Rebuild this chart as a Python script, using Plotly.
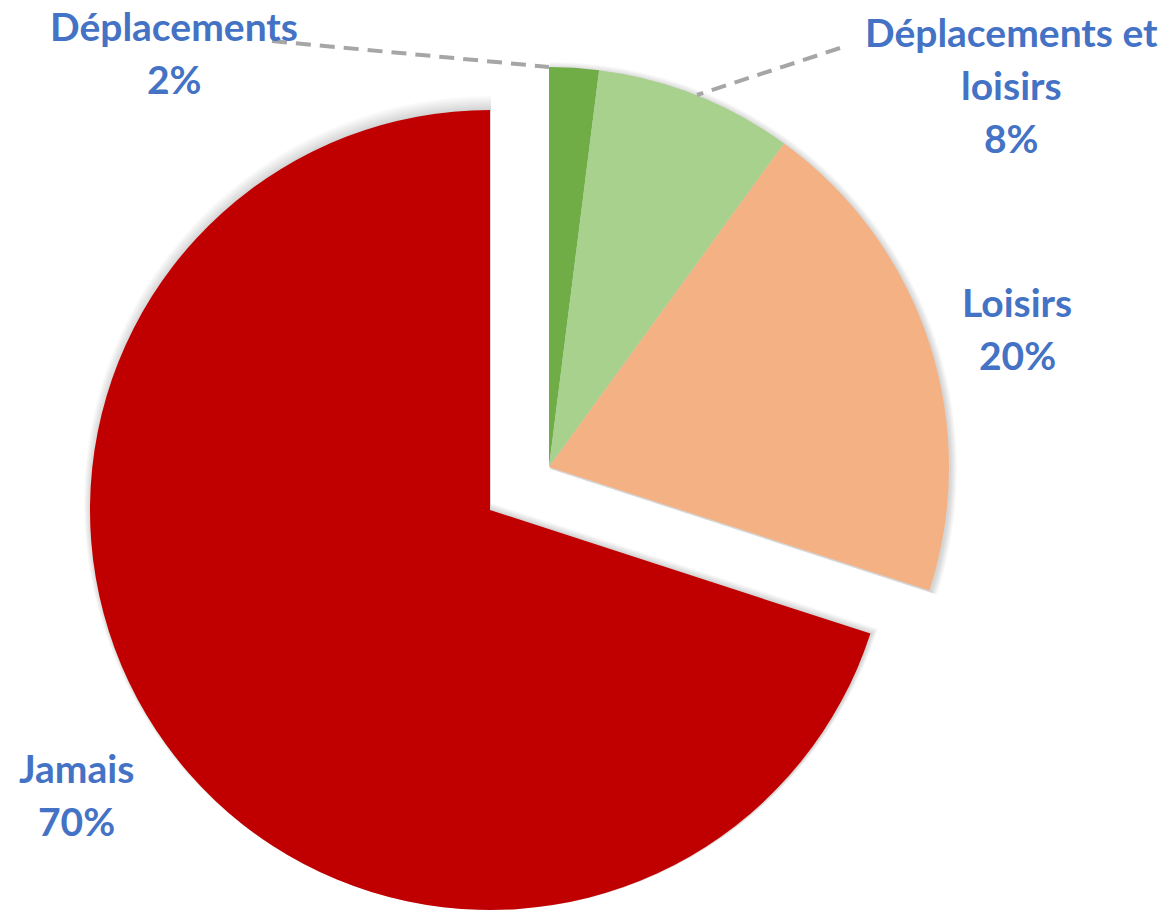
import plotly.graph_objects as go

# ---- data ----
categories = ["Déplacements", "Déplacements et loisirs", "Loisirs", "Jamais"]
values = [2, 8, 20, 70]
display_lines = [["Déplacements"], ["Déplacements et", "loisirs"], ["Loisirs"], ["Jamais"]]

# ---- style ----
slice_colors = ["#70AD47", "#A9D18E", "#F4B183", "#C00000"]
label_color = "#4472C4"
exploded = "Jamais"
W, H = 1170, 910
FONT = "Lato"
FS = 39
LINE_GAP = 53
R = 400
MAIN_C = (549, 467)
EXPL_C = (490, 510)

# screen positions: label anchor (x center px, baseline of first line px)
label_anchor = {
    "Déplacements": (174, 39),
    "Déplacements et loisirs": (1011, 45),
    "Loisirs": (1017, 315),
    "Jamais": (76, 781),
}


def px(x):
    return x / W


def py(y):
    return (H - y) / H


def domain(cx, cy, r):
    return dict(x=[max(0, px(cx - r)), min(1, px(cx + r))],
                y=[max(0, py(cy + r)), min(1, py(cy - r))])


transparent = "rgba(0,0,0,0)"
is_expl = [c == exploded for c in categories]
main_colors = [transparent if e else col for e, col in zip(is_expl, slice_colors)]
expl_colors = [col if e else transparent for e, col in zip(is_expl, slice_colors)]

fig = go.Figure()


def add_pie(colors, center, r, hover=True):
    fig.add_trace(go.Pie(labels=categories, values=values, sort=False, direction="clockwise",
                         rotation=0, textinfo="none", hoverinfo=None if hover else "skip",
                         marker=dict(colors=colors, line=dict(width=0)),
                         domain=domain(center[0], center[1], r), showlegend=False))


# soft shadow layers (same data, drawn underneath)
shadow = "rgba(0,0,0,0.025)"
for k in range(1, 8):
    rk = R + k
    sm = [transparent if e else shadow for e in is_expl]
    se = [shadow if e else transparent for e in is_expl]
    add_pie(sm, (MAIN_C[0] + 1, MAIN_C[1] + 2), rk, hover=False)
    cy = min(EXPL_C[1] + 2, H - rk)
    add_pie(se, (EXPL_C[0] + 1, cy), rk, hover=False)

add_pie(main_colors, MAIN_C, R)
add_pie(expl_colors, EXPL_C, R)

annotations = []
for cat, val, lines in zip(categories, values, display_lines):
    x0, b0 = label_anchor[cat]
    all_lines = lines + [f"{val}%"]
    for i, t in enumerate(all_lines):
        base = b0 + i * LINE_GAP
        annotations.append(dict(
            x=px(x0), y=py(base - 0.33 * FS), xref="paper", yref="paper",
            text=f"<b>{t}</b>", showarrow=False, xanchor="center", yanchor="middle",
            font=dict(family=FONT, size=FS, color=label_color)))

leader = dict(color="#A6A6A6", width=4, dash="15px,9px")
shapes = [
    dict(type="line", xref="paper", yref="paper", x0=px(272), y0=py(41), x1=px(549), y1=py(67), line=leader),
    dict(type="line", xref="paper", yref="paper", x0=px(840), y0=py(48), x1=px(697), y1=py(95), line=leader),
]

fig.update_layout(width=W, height=H, margin=dict(l=0, r=0, t=0, b=0),
                  paper_bgcolor="white", plot_bgcolor="white",
                  annotations=annotations, shapes=shapes)
fig.write_html("out.html", config={"displayModeBar": False},
               post_script="document.body.style.margin='0';document.body.style.overflow='hidden';")
